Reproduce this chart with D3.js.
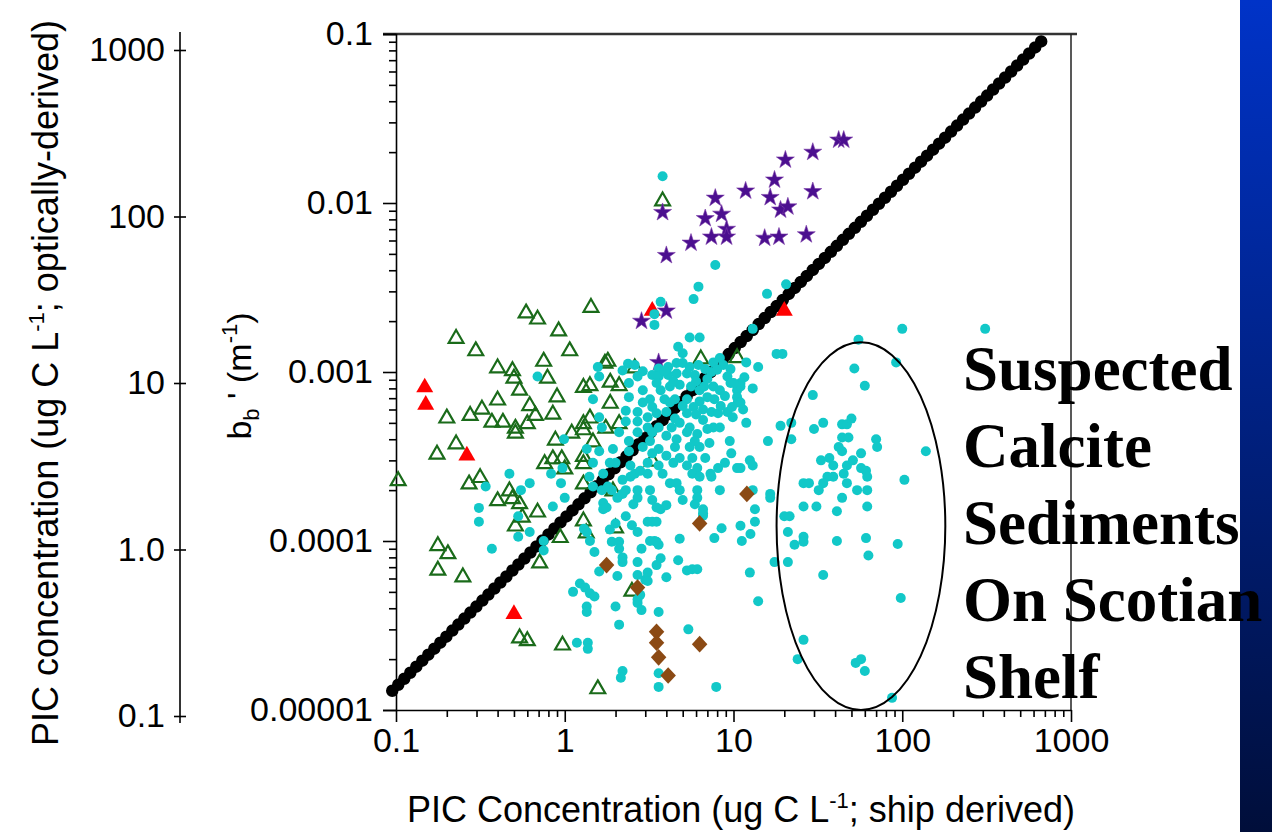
<!DOCTYPE html>
<html>
<head>
<meta charset="utf-8">
<script src="https://cdn.jsdelivr.net/npm/d3@7"></script>
<style>
    html, body { margin: 0; padding: 0; background: #fff; }
    svg { display: block; }
    text { font-family: "Liberation Sans", Arial, Helvetica, sans-serif; fill: #000; }
</style>
</head>
<body>
<svg id="chart" width="1272" height="832"></svg>
<script>
// ---- data (x = ship PIC, ug C/L ; y = bb', 1/m) ----
var xTicks = [0.1, 1, 10, 100, 1000];
var xTickLabels = ["0.1", "1", "10", "100", "1000"];
var yTicks = [0.00001, 0.0001, 0.001, 0.01, 0.1];
var yTickLabels = ["0.00001", "0.0001", "0.001", "0.01", "0.1"];
var optTicks = [0.1, 1, 10, 100, 1000];
var optTickLabels = ["0.1", "1.0", "10", "100", "1000"];

// black dotted 1:1 conversion line (end points)
var conversionLine = [[0.095, 0.000013], [700, 0.095]];

var cyanDots = [
    [3.8,0.0144],[7.8,0.0043],[6.2,0.0032],[5.8,0.0027],[15.8,0.0029],[20.5,0.0033],[3.7,0.0026],
    [3.4,0.0022],[3.4,0.0019],[13,0.0018],[5.5,0.0016],[6.3,0.0016],[4.7,0.00141],[11.9,0.00114],
    [14,0.00107],[18,0.00128],[19.5,0.00128],[100,0.0018],[310,0.0018],[55,0.00155],[52,0.00105],
    [92,0.00114],[60,0.00083],[13,0.0008],[29.5,0.00073],[19,0.00048],[22,0.0005],[30,0.00046],
    [34,0.0005],[16,0.00039],[22,0.0004],[44,0.00049],[47,0.00049],[50,0.00053],[44,0.00041],
    [48,0.00041],[70,0.0004],[71,0.00036],[42,0.00036],[44,0.00034],[138,0.00034],[57,0.00033],
    [33,0.0003],[37,0.00031],[39,0.00028],[47,0.00028],[51,0.0003],[57,0.00027],[61,0.00026],
    [62,0.00024],[36,0.00024],[39,0.00024],[45,0.00025],[34,0.00022],[47,0.00022],[103,0.00023],
    [26,0.00022],[28,0.00022],[32,0.0002],[54,0.0002],[62,0.0002],[16.5,0.00019],[16.5,0.00018],
    [13,0.0002],[44,0.00018],[26,0.00016],[31,0.00016],[62,0.00016],[41,0.00015],[20,0.00014],
    [21.5,0.00014],[21,0.000113],[26,0.000106],[23,0.000095],[26,0.000099],[41,0.0001],[61,0.000104],
    [63,0.000082],[94,0.000096],[17.5,0.000075],[21,0.000075],[34,0.000063],[98,0.000046],[14,0.000044],
    [12.5,0.000065],[26,0.000026],[24,0.00002],[53,0.000019],[57,0.00002],[60,0.000017],[87,0.0000118],
    [2.37,0.00112],[2.6,0.0011],[3.6,0.00105],[4.1,0.00107],[4.6,0.00113],[5.0,0.00113],[5.5,0.00107],
    [6.2,0.0011],[7.6,0.00114],[8.3,0.00121],[8.7,0.0011],[5.0,0.00129],
    [2.7,0.00094],[3.3,0.00096],[3.6,0.00094],[4.1,0.00096],[4.6,0.00098],[5.3,0.00098],[5.9,0.00096],
    [7.4,0.001],[8.0,0.00103],[9.2,0.00094],[11.6,0.00093],[11,0.00086],
    [2.9,0.00078],[3.5,0.00086],[3.7,0.00078],[4.2,0.00082],[4.8,0.00084],[5.6,0.00082],[6.3,0.00078],
    [6.7,0.00082],[7.6,0.00082],[8.3,0.00078],[10.5,0.00078],[11,0.00082],
    [3.2,0.00069],[3.3,0.00062],[3.9,0.00069],[4.2,0.00066],[4.5,0.00069],[5.3,0.00069],[6.3,0.00067],
    [7.0,0.00071],[7.7,0.00069],[8.9,0.00072],[10.5,0.00071],[10.6,0.00066],
    [2.7,0.00058],[3.1,0.00054],[3.5,0.00057],[4.0,0.00058],[5.3,0.00057],[6.6,0.0006],[7.4,0.00058],
    [8.1,0.00057],[9.2,0.00058],[11.4,0.0006],
    [2.7,0.00051],[3.1,0.00047],[3.6,0.00047],[4.8,0.0005],[5.5,0.00047],[6.6,0.00052],[7.6,0.00047],[8.3,0.00047],
    [2.1,0.00044],[2.7,0.00044],[3.3,0.00044],[4.0,0.00042],[5.3,0.00044],[6.1,0.00043],[9.5,0.00039],
    [1.93,0.00035],[2.4,0.00034],[2.9,0.00036],[3.6,0.00035],[4.5,0.00036],[5.5,0.00036],[6.3,0.00036],
    [4.8,0.00031],[5.7,0.00031],
    [2.0,0.00029],[2.45,0.00028],[3.1,0.00029],[3.6,0.00028],[4.4,0.00029],[5.3,0.00028],[6.1,0.00027],
    [7.3,0.00025],[11,0.00027],[3.8,0.00025],[3.1,0.00025],
    [1.6,0.00094],[1.47,0.00069],[1.6,0.00054],[1.66,0.00047],[1.35,0.00035],[1.6,0.00034],[1.47,0.00029],[1.85,0.00029],
    [0.69,0.00094],[0.99,0.0004],[0.83,0.00025],[0.97,0.00027],[1.69,0.00025],[0.47,0.00025],[0.62,0.00022],
    [0.34,0.00021],[0.55,0.0002],[0.95,0.00022],[1.0,0.00018],[1.4,0.00024],[1.47,0.00021],[0.31,0.000157],
    [0.31,0.00013],[0.85,0.00016],[0.53,0.00014],[0.53,0.000106],[0.62,0.000113],[0.75,0.0001],[0.75,0.000088],
    [0.37,0.00009],[1.35,0.000113],[1.41,0.0001],[1.5,0.000086],[1.6,0.000066],[1.69,0.000168],[1.69,0.000154],
    [1.12,0.00005],[1.23,0.000056],[1.32,0.000053],[1.41,0.000049],[1.5,0.000047],[1.35,0.000041],
    [1.35,0.000038],[1.18,0.000025],[1.37,0.000025],[1.37,0.000023],[2.05,0.000062],[2.1,0.000032],
    [2.2,0.000017],[2.15,0.0000155],[2.7,0.000043],[3.0,0.000059],[3.6,0.000038],[3.6,0.0000165],
    [3.6,0.0000137],[5.4,0.00003],[7.9,0.0000137],[4.0,0.000061],[4.7,0.000077],[5.3,0.000067],
    [5.7,0.000068],[6.1,0.000068],[4.8,0.000103],[2.2,0.000075],[3.1,0.000065],[6.6,0.000146],
    [12.5,0.0003],[13,0.00028],[11.9,0.0005],[11,0.00066],[10,0.00086],[1.57,0.00107],
    [10.5,0.00027],[8.1,0.00027],[7.4,0.00024],[8.3,0.0002],[6.1,0.0002],[6.1,0.00018],[5.9,0.000165],
    [6.6,0.000154],[6.6,0.000141],[8.5,0.000119],[7.7,0.000104],[11,0.000123],[11.2,0.0001],[12.6,0.00011],
    [13.4,0.000154],[13.4,0.00013],[1.77,0.000158],[1.3,0.000118],[1.9,0.000099],[2.1,0.000099],
    [2.1,0.00009],[2.2,0.00008],[2.0,0.000041],[2.7,0.000063],[3.1,0.000058],[2.7,0.000075],[2.85,0.00009],
    [3.4,0.0001],[3.6,0.000095],[2.85,0.000039],[2.7,0.000045],[2.8,0.000048],[3.5,0.000072],[3.7,0.000079],
    [2.55,0.000165],[2.7,0.00018],[2.7,0.0002],[2.45,0.00024],[2.6,0.00025],[2.8,0.00026],[2.3,0.00014],
    [2.5,0.000124],[2.7,0.000113],[3.1,0.00013],[3.3,0.00013],[3.5,0.00013],[3.2,0.0001],[3.5,0.000099],
    [3.2,0.0002],[3.3,0.000175],[3.5,0.000158],[3.7,0.000154],[4.0,0.000163],[4.2,0.00022],[4.6,0.00022],
    [4.8,0.0002],[5.0,0.000175],[5.7,0.00025],[6.3,0.00024],[1.9,0.0002],[2.05,0.00018],[2.2,0.00019],
    [2.0,0.000127],[1.85,0.000117],[1.66,0.0002],[1.8,0.00021],[2.3,0.0002],[2.2,0.00023],
    [2.2,0.00102],[2.9,0.00101],[3.9,0.00101],[6.8,0.00104],[9.6,0.00104],[2.4,0.00086],[4.4,0.00088],
    [6.0,0.00088],[7.0,0.00091],[9.6,0.00086],[2.4,0.00071],[2.9,0.00066],[5.0,0.00063],[5.8,0.00062],
    [8.4,0.00063],[9.8,0.00062],[2.3,0.00059],[4.5,0.00053],[6.0,0.00056],[9.9,0.00054],[2.3,0.00051],
    [4.3,0.00047],[7.0,0.00046],[2.4,0.00039],[3.2,0.00039],[4.6,0.00040],[5.9,0.00039],[7.2,0.00038],
    [4.0,0.00032],[3.3,0.00033],[6.8,0.00031],[8.9,0.00029],[9.7,0.00033]
];

var greenTriangles = [
    [3.8,0.0104],[0.59,0.00226],[0.69,0.00208],[1.43,0.00244],[0.92,0.00177],[0.227,0.0016],[0.297,0.00135],
    [1.07,0.00135],[0.40,0.00107],[0.49,0.00103],[0.75,0.00117],[1.8,0.00117],[2.6,0.00107],[6.4,0.00121],
    [10.5,0.00123],[0.50,0.00093],[0.79,0.00093],[0.54,0.00079],[0.90,0.00072],[1.29,0.00082],[1.41,0.00084],
    [1.73,0.00114],[0.40,0.00069],[0.323,0.00061],[0.275,0.00056],[0.2,0.00054],[0.37,0.00051],[0.43,0.00051],
    [0.62,0.00064],[0.67,0.00056],[0.85,0.00057],[0.51,0.00047],[0.60,0.0005],[0.51,0.00044],[1.41,0.00054],
    [1.1,0.00044],[1.29,0.00046],[0.88,0.0004],[0.227,0.00038],[0.175,0.00033],[0.76,0.00029],[0.85,0.00031],
    [0.96,0.00031],[1.0,0.00027],[1.29,0.00032],[1.29,0.00029],[0.315,0.00024],[0.271,0.00022],[0.103,0.00023],
    [0.40,0.000175],[0.47,0.0002],[0.49,0.00018],[0.54,0.000168],[0.69,0.00015],[0.56,0.00014],[0.51,0.000124],
    [0.94,0.000106],[0.71,0.000075],[0.177,0.000095],[0.203,0.000085],[0.177,0.000068],[0.249,0.000062],
    [1.29,0.000133],[1.29,0.0005],[0.54,0.000027],[0.60,0.000026],[0.97,0.0000245],[1.57,0.0000135],
    [2.0,0.000121],[1.34,0.000113],[1.93,0.0002],[2.5,0.000051],[3.3,0.0003],
    [1.86,0.00088],[2.1,0.00084],[1.86,0.00066],[2.1,0.0005],[1.75,0.00047],[1.47,0.00039],[1.29,0.00022]
];

var redTriangles = [
    [0.148,0.00081],[0.15,0.00064],[0.263,0.00032],[0.5,0.000037],[3.3,0.0023],[20,0.0023]
];

var purpleStars = [
    [3.8,0.0088],[4.0,0.0049],[5.6,0.0058],[6.8,0.0081],[7.8,0.0107],[8.5,0.0086],[7.4,0.0063],
    [9.1,0.0070],[9.1,0.0063],[11.8,0.0118],[15.3,0.0062],[16.5,0.0108],[17.5,0.0137],[20.3,0.018],
    [19,0.0091],[21,0.0095],[18.6,0.0063],[27,0.0065],[29.5,0.0117],[29.5,0.020],[42,0.0236],
    [45,0.0236],[2.85,0.0020],[4.0,0.0023],[3.6,0.00114]
];

var brownDiamonds = [
    [12,0.00019],[6.3,0.000127],[1.77,0.000072],[2.7,0.000053],[3.5,0.000029],[3.5,0.000025],
    [3.6,0.0000205],[4.1,0.000016],[6.3,0.0000245]
];

// ellipse round the suspected calcite sediments (data extents)
var ellipseX = [18, 180];
var ellipseY = [0.00001, 0.0015];

var noteLines = ["Suspected", "Calcite", "Sediments", "On Scotian", "Shelf"];

// ---- chart ----
var svg = d3.select("#chart");

var x = d3.scaleLog().domain([0.1, 1000]).range([396, 1071]);
var y = d3.scaleLog().domain([0.00001, 0.1]).range([710, 34]);
var yOpt = d3.scaleLog().domain([0.1, 1000]).range([716, 50]);

// blue side bar
var grad = svg.append("defs").append("linearGradient")
    .attr("id", "sidebar")
    .attr("x1", 0).attr("y1", 0).attr("x2", 0).attr("y2", 1);
grad.append("stop").attr("offset", "0%").attr("stop-color", "#0033c8");
grad.append("stop").attr("offset", "100%").attr("stop-color", "#000e3a");
svg.append("rect")
    .attr("x", 1240).attr("y", 0)
    .attr("width", 32).attr("height", 832)
    .attr("fill", "url(#sidebar)");

// minor tick values 2..9 per decade
var minorOf = function(lo, hi) {
    var out = [];
    for (var d = lo; d < hi; d *= 10) {
        for (var k = 2; k <= 9; k++) out.push(d * k);
    }
    return out;
};

// frame (top and right)
svg.append("line")
    .attr("x1", x(0.1) - 13).attr("x2", x(1000) + 6)
    .attr("y1", y(0.1)).attr("y2", y(0.1))
    .attr("stroke", "#333").attr("stroke-width", 2.5);
svg.append("line")
    .attr("x1", x(1000)).attr("x2", x(1000))
    .attr("y1", y(0.1)).attr("y2", y(0.00001))
    .attr("stroke", "#222").attr("stroke-width", 1.5);

// x axis
svg.append("g")
    .attr("transform", "translate(0," + y(0.00001) + ")")
    .call(d3.axisBottom(x).tickValues(xTicks).tickSize(12).tickSizeOuter(0).tickPadding(6)
        .tickFormat(function(d, i) { return xTickLabels[i]; }));
svg.append("g")
    .attr("transform", "translate(0," + y(0.00001) + ")")
    .call(d3.axisBottom(x).tickValues(minorOf(0.1, 1000)).tickSize(7).tickFormat(""))
    .select(".domain").remove();

// y axis (bb')
svg.append("g")
    .attr("transform", "translate(" + x(0.1) + ",0)")
    .call(d3.axisLeft(y).tickValues(yTicks).tickSize(13).tickSizeOuter(13).tickPadding(10)
        .tickFormat(function(d, i) { return yTickLabels[i]; }));
svg.append("g")
    .attr("transform", "translate(" + x(0.1) + ",0)")
    .call(d3.axisLeft(y).tickValues(minorOf(0.00001, 0.1)).tickSize(7).tickFormat(""))
    .select(".domain").remove();

// optically-derived PIC axis (far left)
var optX = 180;
svg.append("line")
    .attr("x1", optX).attr("x2", optX)
    .attr("y1", yOpt(0.1) + 7).attr("y2", yOpt(1000) - 18)
    .attr("stroke", "#000").attr("stroke-width", 1.6);
var go = svg.append("g")
    .attr("transform", "translate(" + optX + ",0)")
    .call(d3.axisLeft(yOpt).tickValues(optTicks).tickSize(6).tickPadding(9)
        .tickFormat(function(d, i) { return optTickLabels[i]; }));
go.select(".domain").remove();
svg.append("g")
    .attr("transform", "translate(" + optX + ",0)")
    .call(d3.axisRight(yOpt).tickValues(optTicks).tickSize(6).tickFormat(""))
    .select(".domain").remove();

svg.selectAll(".tick text")
    .style("font-size", "34px")
    .style("font-family", "'Liberation Sans', Arial, sans-serif")
    .attr("fill", "#000");
svg.selectAll(".domain, .tick line").attr("stroke", "#000").attr("stroke-width", 1.6);

// axis titles
var xt = svg.append("text")
    .attr("x", 741).attr("y", 822)
    .attr("text-anchor", "middle")
    .style("font-size", "36px");
xt.append("tspan").text("PIC Concentration (ug C L");
xt.append("tspan").attr("dy", -14).style("font-size", "22px").text("-1");
xt.append("tspan").attr("dy", 14).text("; ship derived)");

var lt = svg.append("text")
    .attr("transform", "translate(58,383) rotate(-90)")
    .attr("text-anchor", "middle")
    .style("font-size", "36px");
lt.append("tspan").text("PIC concentration (ug C L");
lt.append("tspan").attr("dy", -14).style("font-size", "22px").text("-1");
lt.append("tspan").attr("dy", 14).text("; optically-derived)");

var bt = svg.append("text")
    .attr("transform", "translate(251,376) rotate(-90)")
    .attr("text-anchor", "middle")
    .style("font-size", "34px");
bt.append("tspan").text("b");
bt.append("tspan").attr("dy", 8).style("font-size", "22px").text("b");
bt.append("tspan").attr("dy", -8).text(" ' (m");
bt.append("tspan").attr("dy", -14).style("font-size", "22px").text("-1");
bt.append("tspan").attr("dy", 14).text(")");

// ---- marks ----
var plot = svg.append("g");

plot.append("path")
    .datum(conversionLine)
    .attr("d", d3.line().x(function(d) { return x(d[0]); }).y(function(d) { return y(d[1]); }))
    .attr("fill", "none")
    .attr("stroke", "#000")
    .attr("stroke-width", 12.5)
    .attr("stroke-linecap", "round")
    .attr("stroke-dasharray", "0 8.5");

var place = function(d) { return "translate(" + x(d[0]) + "," + y(d[1]) + ")"; };

plot.selectAll(".tri-open")
    .data(greenTriangles)
    .enter().append("path")
    .attr("class", "tri-open")
    .attr("transform", function(d) { return place(d) + " translate(0,1)"; })
    .attr("d", d3.symbol().type(d3.symbolTriangle).size(95))
    .attr("fill", "none")
    .attr("stroke", "#1a6b1a")
    .attr("stroke-width", 2.2);

plot.selectAll(".tri-red")
    .data(redTriangles)
    .enter().append("path")
    .attr("class", "tri-red")
    .attr("transform", place)
    .attr("d", d3.symbol().type(d3.symbolTriangle).size(125))
    .attr("fill", "#ff0000");

plot.selectAll(".star")
    .data(purpleStars)
    .enter().append("path")
    .attr("class", "star")
    .attr("transform", place)
    .attr("d", d3.symbol().type(d3.symbolStar).size(100))
    .attr("fill", "#4b0f8f")
    .attr("stroke", "#7a3aa8")
    .attr("stroke-width", 0.6);

plot.selectAll(".cyan")
    .data(cyanDots)
    .enter().append("circle")
    .attr("class", "cyan")
    .attr("cx", function(d) { return x(d[0]); })
    .attr("cy", function(d) { return y(d[1]); })
    .attr("r", 5)
    .attr("fill", "#12c8c8");

plot.selectAll(".diamond")
    .data(brownDiamonds)
    .enter().append("path")
    .attr("class", "diamond")
    .attr("transform", function(d) { return place(d) + " scale(1,1.08) rotate(45)"; })
    .attr("d", d3.symbol().type(d3.symbolSquare).size(120))
    .attr("fill", "#8b4a14");

// ellipse annotation
var ex0 = x(ellipseX[0]), ex1 = x(ellipseX[1]);
var ey0 = y(ellipseY[1]), ey1 = y(ellipseY[0]);
svg.append("ellipse")
    .attr("cx", (ex0 + ex1) / 2).attr("cy", (ey0 + ey1) / 2)
    .attr("rx", (ex1 - ex0) / 2).attr("ry", (ey1 - ey0) / 2)
    .attr("fill", "none")
    .attr("stroke", "#000")
    .attr("stroke-width", 2);

// note text
svg.append("g").selectAll("text")
    .data(noteLines)
    .enter().append("text")
    .attr("x", 963)
    .attr("y", function(d, i) { return 390 + i * 77; })
    .style("font-family", "'Liberation Serif', 'Times New Roman', serif")
    .style("font-weight", "bold")
    .style("font-size", "63px")
    .text(function(d) { return d; });
</script>
</body>
</html>
